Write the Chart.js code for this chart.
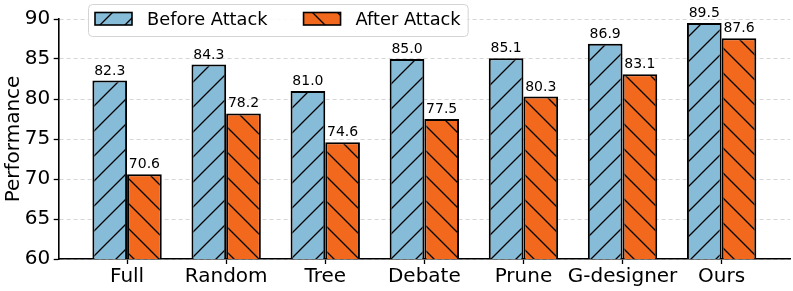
<!DOCTYPE html>
<html>
<head>
<meta charset="utf-8">
<script src="https://cdn.jsdelivr.net/npm/chart.js@4.4.1/dist/chart.umd.min.js"></script>
<style>
  html, body { margin: 0; padding: 0; background: #fff; }
</style>
</head>
<body>
<canvas id="perfChart" width="793" height="291"></canvas>
<script>
// data
const categories = ['Full', 'Random', 'Tree', 'Debate', 'Prune', 'G-designer', 'Ours'];
const beforeAttack = [82.3, 84.3, 81.0, 85.0, 85.1, 86.9, 89.5];
const afterAttack = [70.6, 78.2, 74.6, 77.5, 80.3, 83.1, 87.6];
const seriesNames = ['Before Attack', 'After Attack'];
const yTicks = [60, 65, 70, 75, 80, 85, 90];

const FONT = "'DejaVu Sans', sans-serif";
let ctx = document.getElementById('perfChart').getContext('2d');

// diagonal hatch fill, like matplotlib's '/' and '\'
function hatch(color, dir) {
    const s = 25;
    const c = document.createElement('canvas');
    c.width = s; c.height = s;
    const g = c.getContext('2d');
    g.fillStyle = color;
    g.fillRect(0, 0, s, s);
    g.strokeStyle = '#000';
    g.lineWidth = 1.3;
    g.beginPath();
    if (dir === '/') {
        g.moveTo(-2, s + 2); g.lineTo(s + 2, -2);
        g.moveTo(-2, 2); g.lineTo(2, -2);
        g.moveTo(s - 2, s + 2); g.lineTo(s + 2, s - 2);
    } else {
        g.moveTo(-2, -2); g.lineTo(s + 2, s + 2);
        g.moveTo(s - 2, -2); g.lineTo(s + 2, 2);
        g.moveTo(-2, s - 2); g.lineTo(2, s + 2);
    }
    g.stroke();
    return ctx.createPattern(c, 'repeat');
}

const blueFill = hatch('#87bcd9', '/');
const orangeFill = hatch('#f2691e', '\\');

// numbers above each bar
const valueLabels = {
    id: 'valueLabels',
    afterDatasetsDraw(chart) {
        const c = chart.ctx;
        c.save();
        c.font = '14px ' + FONT;
        c.fillStyle = '#000';
        c.textAlign = 'center';
        c.textBaseline = 'alphabetic';
        chart.data.datasets.forEach((ds, i) => {
            chart.getDatasetMeta(i).data.forEach((bar, j) => {
                c.fillText(ds.data[j].y.toFixed(1), bar.x, bar.y - 6);
            });
        });
        c.restore();
    }
};

// framed legend sitting over the top of the plot
const boxLegend = {
    id: 'boxLegend',
    afterDraw(chart) {
        const c = chart.ctx;
        c.save();
        c.font = '17.8px ' + FONT;
        const left = 88, top = 4, h = 32;
        const patchW = 37, patchH = 12.5, gapText = 15, gapItem = 36;
        const widths = chart.data.datasets.map(ds => c.measureText(ds.label).width);
        let w = 7;
        widths.forEach((tw, i) => { w += patchW + gapText + tw + (i < widths.length - 1 ? gapItem : 0); });
        w += 7;
        c.beginPath();
        c.roundRect(left + 0.5, top + 0.5, w, h, 4);
        c.fillStyle = 'rgba(255,255,255,0.85)';
        c.fill();
        c.strokeStyle = '#d4d4d4';
        c.lineWidth = 1;
        c.stroke();
        let x = left + 7;
        chart.data.datasets.forEach((ds, i) => {
            c.fillStyle = ds.backgroundColor;
            c.fillRect(x, 12.5, patchW, patchH);
            c.strokeStyle = '#000';
            c.lineWidth = 1.6;
            c.strokeRect(x, 12.5, patchW, patchH);
            c.fillStyle = '#000';
            c.textBaseline = 'alphabetic';
            c.fillText(ds.label, x + patchW + gapText, 25);
            x += patchW + gapText + widths[i] + gapItem;
        });
        c.restore();
    }
};

let chart = new Chart(ctx, {
    type: 'bar',
    data: {
        datasets: [{
            label: seriesNames[0],
            data: beforeAttack.map((v, i) => ({ x: i, y: v })),
            backgroundColor: blueFill,
            borderColor: '#000',
            borderWidth: 2,
            categoryPercentage: 0.7,
            barPercentage: 1.0
        }, {
            label: seriesNames[1],
            data: afterAttack.map((v, i) => ({ x: i, y: v })),
            backgroundColor: orangeFill,
            borderColor: '#000',
            borderWidth: 2,
            categoryPercentage: 0.7,
            barPercentage: 1.0
        }]
    },
    options: {
        responsive: false,
        animation: false,
        layout: { padding: { top: 19, right: 3, left: 0, bottom: 0 } },
        scales: {
            x: {
                type: 'linear',
                offset: false,
                min: -0.69,
                max: 6.69,
                afterBuildTicks: (scale) => {
                    scale.ticks = categories.map((_, i) => ({ value: i }));
                },
                afterFit: (scale) => { scale.height = 32; },
                ticks: {
                    autoSkip: false,
                    maxRotation: 0,
                    padding: 1,
                    color: '#000',
                    font: { family: FONT, size: 20 },
                    callback: (value) => categories[value]
                },
                grid: {
                    offset: false,
                    drawOnChartArea: false,
                    tickLength: 5,
                    tickColor: '#000',
                    tickWidth: 1.3
                },
                border: { color: '#000', width: 1.6 }
            },
            y: {
                min: 60,
                max: 90,
                afterBuildTicks: (scale) => {
                    scale.ticks = yTicks.map(v => ({ value: v }));
                },
                afterFit: (scale) => { scale.width = 58.7; },
                title: {
                    display: true,
                    text: 'Performance',
                    color: '#000',
                    font: { family: FONT, size: 20 },
                    padding: { top: 2, bottom: 0 }
                },
                ticks: {
                    padding: 3.5,
                    color: '#000',
                    font: { family: FONT, size: 20 }
                },
                grid: {
                    color: '#cccccc',
                    lineWidth: 0.8,
                    tickLength: 5,
                    tickColor: '#000',
                    tickWidth: 1.3,
                    tickBorderDash: []
                },
                border: { color: '#000', width: 1.6, dash: [4, 3] }
            }
        },
        plugins: {
            legend: { display: false },
            tooltip: { enabled: false }
        }
    },
    plugins: [valueLabels, boxLegend]
});
</script>
</body>
</html>
